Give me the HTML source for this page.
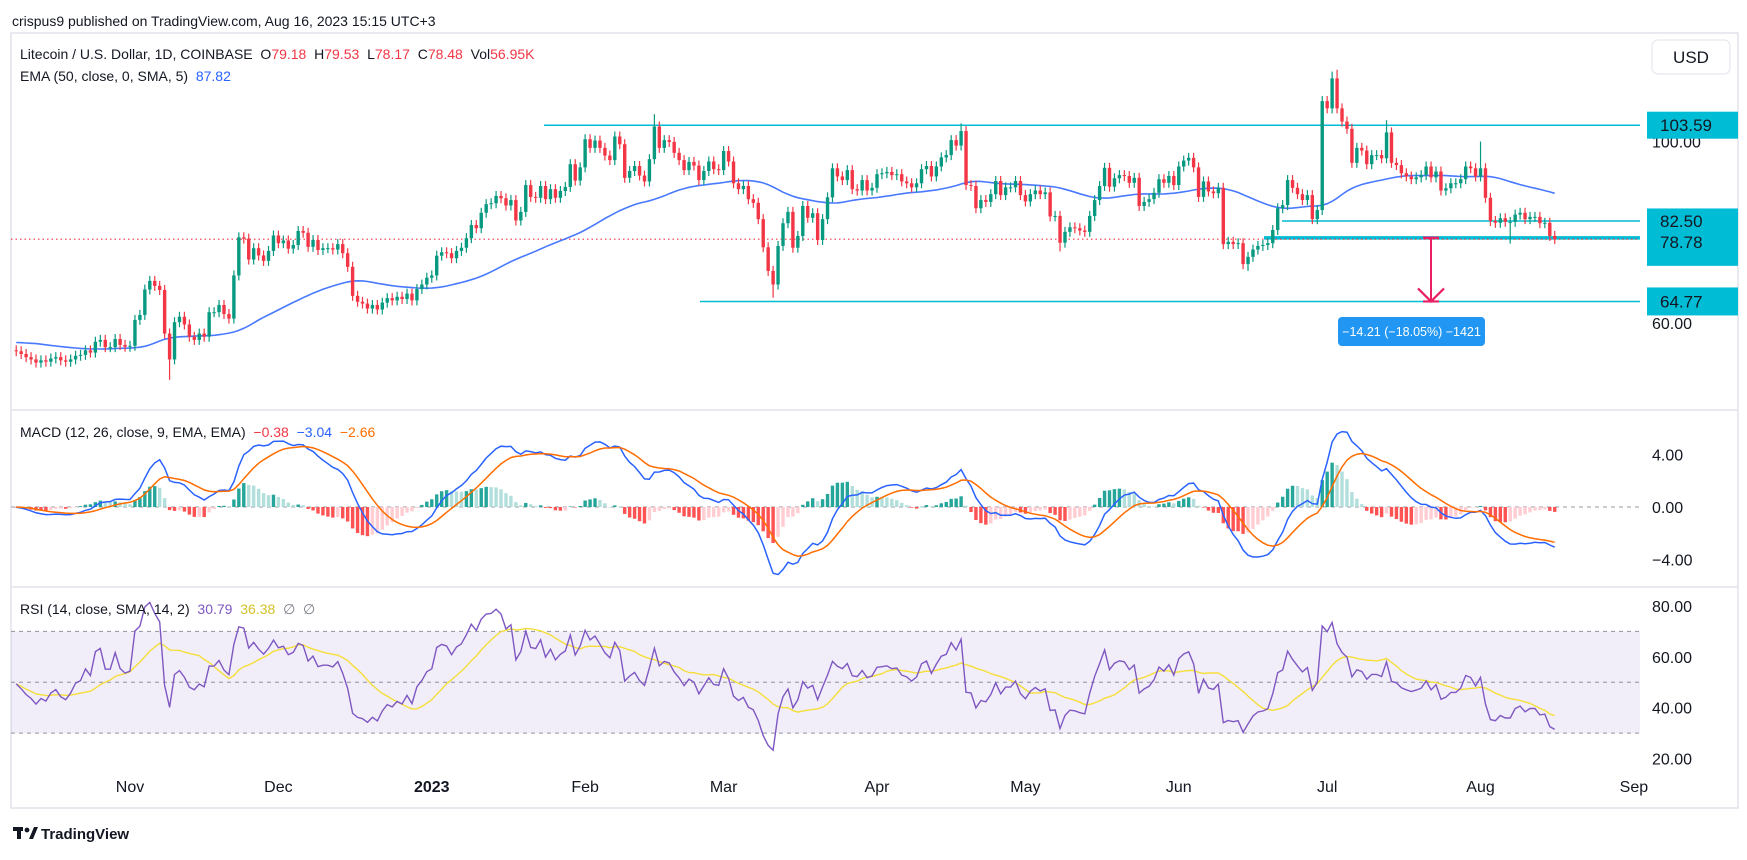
<!DOCTYPE html>
<html><head><meta charset="utf-8">
<style>
html,body{margin:0;padding:0;background:#fff;}
body{width:1747px;height:855px;overflow:hidden;font-family:"Liberation Sans",sans-serif;}
svg text{font-family:"Liberation Sans",sans-serif;}
</style></head>
<body>
<svg id="chart" width="1747" height="855" viewBox="0 0 1747 855" xmlns="http://www.w3.org/2000/svg">
  <text x="12" y="26" font-size="14" fill="#131722">crispus9 published on TradingView.com, Aug 16, 2023 15:15 UTC+3</text>
  <rect x="11" y="33" width="1727" height="775" fill="#fff" stroke="#E0E3EB" stroke-width="1.5"/>
  <line x1="11" y1="410" x2="1738" y2="410" stroke="#E0E3EB" stroke-width="1.5"/>
  <line x1="11" y1="587" x2="1738" y2="587" stroke="#E0E3EB" stroke-width="1.5"/>
  <g id="rsiBand"></g>
  <g id="lines"></g>
  <g id="ema"></g>
  <g id="candles"></g>
  <g id="macd"></g>
  <g id="rsi"></g>
  <g id="axes"></g>

  <text x="20" y="59" font-size="14" fill="#131722">Litecoin / U.S. Dollar, 1D, COINBASE&#160; O<tspan fill="#F23645">79.18</tspan>&#160; H<tspan fill="#F23645">79.53</tspan>&#160; L<tspan fill="#F23645">78.17</tspan>&#160; C<tspan fill="#F23645">78.48</tspan>&#160; Vol<tspan fill="#F23645">56.95K</tspan></text>
  <text x="20" y="81" font-size="14" fill="#131722">EMA (50, close, 0, SMA, 5)&#160; <tspan fill="#2962FF">87.82</tspan></text>
  <text x="20" y="437" font-size="14" fill="#131722">MACD (12, 26, close, 9, EMA, EMA)&#160; <tspan fill="#F23645">−0.38</tspan>&#160; <tspan fill="#2962FF">−3.04</tspan>&#160; <tspan fill="#FF6D00">−2.66</tspan></text>
  <text x="20" y="614" font-size="14" fill="#131722">RSI (14, close, SMA, 14, 2)&#160; <tspan fill="#7E57C2">30.79</tspan>&#160; <tspan fill="#D4C12A">36.38</tspan>&#160; <tspan fill="#787B86">∅</tspan>&#160; <tspan fill="#787B86">∅</tspan></text>

  <rect x="1652" y="40" width="78" height="34" rx="6" fill="#fff" stroke="#E0E3EB"/>
  <text x="1691" y="63" font-size="17" fill="#131722" text-anchor="middle">USD</text>

  <g>
    <rect x="13" y="827" width="10" height="4" fill="#131722"/>
    <rect x="17" y="827" width="4" height="12" fill="#131722"/>
    <circle cx="27" cy="830" r="2.4" fill="#131722"/>
    <polygon points="29,839 34,827 38,827 33,839" fill="#131722"/>
    <text x="41" y="839" font-size="15" font-weight="bold" fill="#131722">TradingView</text>
  </g>
</svg>
<script>
// ---------- data (daily closes, Oct 9 2022 .. Aug 16 2023) ----------
const startLabel = "2022-10-09";
const closesOct = [53.8,53.2,52.5,52.0,51.3,51.8,51.5,52.2,52.5,51.8,51.5,52.0,52.8,53.0,54.0,53.5,55.9,56.3,54.7,54.7,56.5,55.2,54.8];
const closesNov = [55.0,60.7,61.8,67.4,69.3,68.2,67.3,57.7,52.0,60.2,61.4,59.7,57.0,56.3,57.7,57.0,62.4,62.4,64.0,62.0,61.0,70.5,78.9,78.6,74.0,76.5,74.9,73.7,75.9,79.3];
const closesDec = [77.6,78.2,76.4,77.2,80.3,79.9,76.8,78.3,76.1,76.5,76.5,76.2,77.4,75.4,72.4,66.0,64.7,64.3,63.2,64.0,63.0,64.5,65.5,65.0,65.8,65.3,66.5,65.0,67.5,68.5,70.0];
const closesJan = [70.5,74.85,75.6,75.4,74.3,75.9,76.6,78.7,81.6,80.9,84.3,86.2,86.4,88.0,87.5,85.9,87.1,82.6,84.5,90.4,87.8,87.6,90.2,87.3,89.5,87.6,89.1,90.0,95.0,91.4,94.3];
const closesFeb = [100.5,98.6,100.2,98.6,96.9,95.9,101.1,99.4,92.0,93.5,94.6,92.5,91.2,96.1,103.3,98.6,100.3,99.9,97.5,95.9,93.7,95.5,94.7,91.5,93.5,95.6,93.9,93.7];
const closesMar = [97.9,95.6,90.8,89.5,90.2,87.3,86.5,82.9,76.7,71.5,68.5,77.0,82.0,84.5,76.6,79.2,85.8,83.2,84.2,78.3,82.9,87.7,94.1,92.3,91.5,93.7,89.5,89.2,91.5,89.2,89.8];
const closesApr = [92.8,93.0,93.3,92.6,92.8,91.2,90.8,89.9,90.8,93.9,94.6,92.3,94.5,96.5,97.0,100.3,99.1,102.3,90.4,90.2,85.3,87.1,86.7,88.4,91.3,88.2,89.9,89.9,91.3,88.2];
const closesMay = [86.8,88.4,89.2,88.4,88.8,83.5,83.6,77.7,80.1,81.1,80.9,80.4,80.1,83.6,87.1,90.2,94.2,90.05,91.9,92.6,92.4,90.9,92.0,85.8,86.7,87.3,88.7,91.7,90.9,92.4,90.4];
const closesJun = [94.5,95.8,96.4,94.3,87.8,91.2,89.0,88.6,89.8,77.4,77.9,77.4,77.6,73.0,74.6,76.2,77.0,77.2,77.6,80.5,85.3,86.0,91.5,89.8,88.4,87.1,88.2,82.9,84.9,108.9];
const closesJul = [107.3,113.9,107.3,104.4,102.8,95.3,98.6,98.0,95.0,97.0,97.0,96.3,102.0,95.3,94.8,93.0,92.3,91.7,92.1,92.6,94.5,92.1,93.4,89.2,89.7,90.8,90.8,91.7,94.5,94.1,92.3];
const closesAug = [94.1,87.6,82.5,82.1,83.1,82.3,82.3,83.9,84.3,82.9,83.4,83.4,82.0,82.1,79.2,78.5];
const firstOpen = 54.0;
const highOverrides = [[129,106.0],[266,115.4],[267,115.8],[191,104.0],[277,104.7],[296,100.0]];
const lowOverrides = [[31,47.5],[153,65.6],[249,71.5],[211,75.8],[302,77.5]];
const levelValues = [103.59, 82.50, 78.78, 64.77];
const lastPrice = 78.48;
const priceTicks = [100, 60];
const macdTicks = [4, 0, -4];
const rsiTicks = [80, 60, 40, 20];
const monthLabels = ["Nov","Dec","2023","Feb","Mar","Apr","May","Jun","Jul","Aug","Sep"];
const monthIndex = [23,53,84,115,143,174,204,235,265,296,327];
const measureText = "−14.21 (−18.05%) −1421";

const closes = [].concat(closesOct,closesNov,closesDec,closesJan,closesFeb,closesMar,closesApr,closesMay,closesJun,closesJul,closesAug);

// ---------- scales ----------
const PX_DAY = 4.947, NOV1_X = 130, PLOT_R = 1640;
function xOf(i){ return NOV1_X + (i-23)*PX_DAY; }
function yP(p){ return 141.5 + (100-p)*4.54; }
function yM(v){ return 507 - v*13.1; }
function yR(v){ return 606 + (80-v)*2.543; }
const NS = "http://www.w3.org/2000/svg";
function mk(tag, attrs, parent){
  const e = document.createElementNS(NS, tag);
  for (const k in attrs) e.setAttribute(k, attrs[k]);
  parent.appendChild(e); return e;
}
const svg = document.getElementById('chart');
const defs = mk('defs', {}, svg);
svg.insertBefore(defs, svg.firstChild);
function clip(id,x,y,w,h){ const c = mk('clipPath',{id:id},defs); mk('rect',{x:x,y:y,width:w,height:h},c); }
clip('cMain',11,33,PLOT_R-11,377);
clip('cMacd',11,410,PLOT_R-11,177);
clip('cRsi',11,587,PLOT_R-11,185);

// ---------- candles ----------
const gC = document.getElementById('candles');
gC.setAttribute('clip-path','url(#cMain)');
const hiMap = {}, loMap = {};
highOverrides.forEach(function(a){ hiMap[a[0]] = a[1]; });
lowOverrides.forEach(function(a){ loMap[a[0]] = a[1]; });
const WICK = 1.1;
for (let i=0;i<closes.length;i++){
  const o = i===0 ? firstOpen : closes[i-1];
  const c = closes[i];
  const hi = hiMap[i] !== undefined ? hiMap[i] : Math.max(o,c)+WICK;
  const lo = loMap[i] !== undefined ? loMap[i] : Math.min(o,c)-WICK;
  const col = c>=o ? '#089981' : '#F23645';
  const x = xOf(i);
  const w = mk('line',{x1:x,x2:x,y1:yP(hi),y2:yP(lo),stroke:col,'stroke-width':1.2},gC);
  
  
  const top = yP(Math.max(o,c)), bot = yP(Math.min(o,c));
  const b = mk('rect',{x:x-1.7,y:top,width:3.4,height:Math.max(1,bot-top),fill:col},gC);
  
  
}

// ---------- EMA 50 (smoothed SMA 5) ----------
const emaSeed = 55.8;
let e = emaSeed; const emaArr = [];
const k50 = 2/51;
closes.forEach(function(c){ e = c*k50 + e*(1-k50); emaArr.push(e); });
const emaSm = emaArr.map(function(v,i){ const s = emaArr.slice(Math.max(0,i-4),i+1); return s.reduce(function(a,b){return a+b;},0)/s.length; });
const gE = document.getElementById('ema');
gE.setAttribute('clip-path','url(#cMain)');
const emaPath = mk('path',{d:emaSm.map(function(v,i){return (i?'L':'M')+xOf(i).toFixed(1)+' '+yP(v).toFixed(1);}).join(''),fill:'none',stroke:'#2962FF','stroke-width':1.6,opacity:0.85},gE);



// ---------- drawing lines ----------
const gL = document.getElementById('lines');
const lvStart = [544, 1282, 1264, 700];
const lvWidth = [1.5, 1.5, 3.5, 1.5];
levelValues.forEach(function(v,j){
  const l = mk('line',{x1:lvStart[j],x2:PLOT_R,y1:yP(v),y2:yP(v),stroke:'#00BCD4','stroke-width':lvWidth[j]},gL);
  
  
});
const dl = mk('line',{x1:11,x2:PLOT_R,y1:yP(lastPrice),y2:yP(lastPrice),stroke:'#F23645','stroke-width':1.2,'stroke-dasharray':'1.5 3'},gL);


// measurement arrow
const ax = 1431, ay1 = yP(levelValues[2]), ay2 = yP(levelValues[3]);
const cap = mk('line',{x1:ax-8,x2:ax+8,y1:ay1,y2:ay1,stroke:'#E91E63','stroke-width':2.5},gL);


const shaft = mk('line',{x1:ax,x2:ax,y1:ay1,y2:ay2,stroke:'#E91E63','stroke-width':2},gL);


const head = mk('path',{d:'M'+(ax-13)+' '+(ay2-13)+'L'+ax+' '+ay2+'L'+(ax+13)+' '+(ay2-13)+'M'+(ax-8)+' '+ay2+'L'+(ax+8)+' '+ay2,fill:'none',stroke:'#E91E63','stroke-width':2.2},gL);


const mb = mk('rect',{x:1338,y:317,width:147,height:29,rx:4,fill:'#2196F3'},gL);


const mt = mk('text',{x:1411.5,y:336,'font-size':12.5,fill:'#fff','text-anchor':'middle'},gL);
mt.textContent = measureText;



// ---------- MACD ----------
let e12 = firstOpen, e26 = firstOpen, sig = 0;
const macdArr = [], sigArr = [], histArr = [];
closes.forEach(function(c){
  e12 = c*2/13 + e12*11/13; e26 = c*2/27 + e26*25/27;
  const m = e12-e26; sig = m*0.2 + sig*0.8;
  macdArr.push(m); sigArr.push(sig); histArr.push(m-sig);
});
const gM = document.getElementById('macd');
gM.setAttribute('clip-path','url(#cMacd)');
const zl = mk('line',{x1:11,x2:PLOT_R,y1:yM(0),y2:yM(0),stroke:'#9598A1','stroke-width':1,'stroke-dasharray':'4 4'},gM);


histArr.forEach(function(h,i){
  const p = i? histArr[i-1] : 0;
  const col = h>=0 ? (h>=p ? '#26A69A' : '#B2DFDB') : (h<p ? '#FF5252' : '#FFCDD2');
  const y0 = yM(0), y1 = yM(h);
  const r = mk('rect',{x:xOf(i)-1.7,y:Math.min(y0,y1),width:3.4,height:Math.max(0.5,Math.abs(y1-y0)),fill:col},gM);
  
  
});
function pathOf(arr, f){ return arr.map(function(v,i){return (i?'L':'M')+xOf(i).toFixed(1)+' '+f(v).toFixed(1);}).join(''); }
const ml = mk('path',{d:pathOf(macdArr,yM),fill:'none',stroke:'#2962FF','stroke-width':1.5},gM);


const sl = mk('path',{d:pathOf(sigArr,yM),fill:'none',stroke:'#FF6D00','stroke-width':1.5},gM);



// ---------- RSI ----------
let ag = 0.6, al = 0.6; const rsiArr = [];
closes.forEach(function(c,i){
  const p = i? closes[i-1] : firstOpen; const d = c-p;
  ag = (ag*13 + Math.max(d,0))/14; al = (al*13 + Math.max(-d,0))/14;
  rsiArr.push(100 - 100/(1+ag/al));
});
const rsiMa = rsiArr.map(function(v,i){ const s = rsiArr.slice(Math.max(0,i-13),i+1); return s.reduce(function(a,b){return a+b;},0)/s.length; });
const gB = document.getElementById('rsiBand');
const band = mk('rect',{x:11,y:yR(70),width:PLOT_R-11,height:yR(30)-yR(70),fill:'rgba(126,87,194,0.1)'},gB);


[70,50,30].forEach(function(v){
  const l = mk('line',{x1:11,x2:PLOT_R,y1:yR(v),y2:yR(v),stroke:'#787B86','stroke-width':1,'stroke-dasharray':'4 4',opacity:0.8},gB);
  
  
});
const gR = document.getElementById('rsi');
gR.setAttribute('clip-path','url(#cRsi)');
const rm = mk('path',{d:pathOf(rsiMa,yR),fill:'none',stroke:'#F5DE3A','stroke-width':1.4},gR);


const rl = mk('path',{d:pathOf(rsiArr,yR),fill:'none',stroke:'#7E57C2','stroke-width':1.4},gR);



// ---------- axes ----------
const gA = document.getElementById('axes');
function axLabel(txt,y,name){
  const t = mk('text',{x:1652,y:y+6,'font-size':16,fill:'#131722'},gA);
  t.textContent = txt;
  
  
}
priceTicks.forEach(function(v){ axLabel(v.toFixed(2), yP(v), 'price-tick-label'); });
macdTicks.forEach(function(v){ axLabel((v<0?'−':'')+Math.abs(v).toFixed(2), yM(v), 'macd-tick-label'); });
rsiTicks.forEach(function(v){ axLabel(v.toFixed(2), yR(v), 'rsi-tick-label'); });
const boxH = [27, 25, 36, 28];
levelValues.forEach(function(v,j){
  const y = yP(v);
  const r = mk('rect',{x:1647,y:y-boxH[j]/2+(j===2?10:0),width:91,height:boxH[j],fill:'#00BCD4'},gA);
  
  
  const t = mk('text',{x:1660,y:y+6+(j===2?4:0),'font-size':17,fill:'#131722'},gA);
  t.textContent = v.toFixed(2);
  
  
});
monthLabels.forEach(function(m,j){
  const t = mk('text',{x:xOf(monthIndex[j]),y:792,'font-size':16,fill:'#131722','text-anchor':'middle','font-weight':m==='2023'?'bold':'normal'},gA);
  t.textContent = m;
  
  
});
</script>
</body></html>
